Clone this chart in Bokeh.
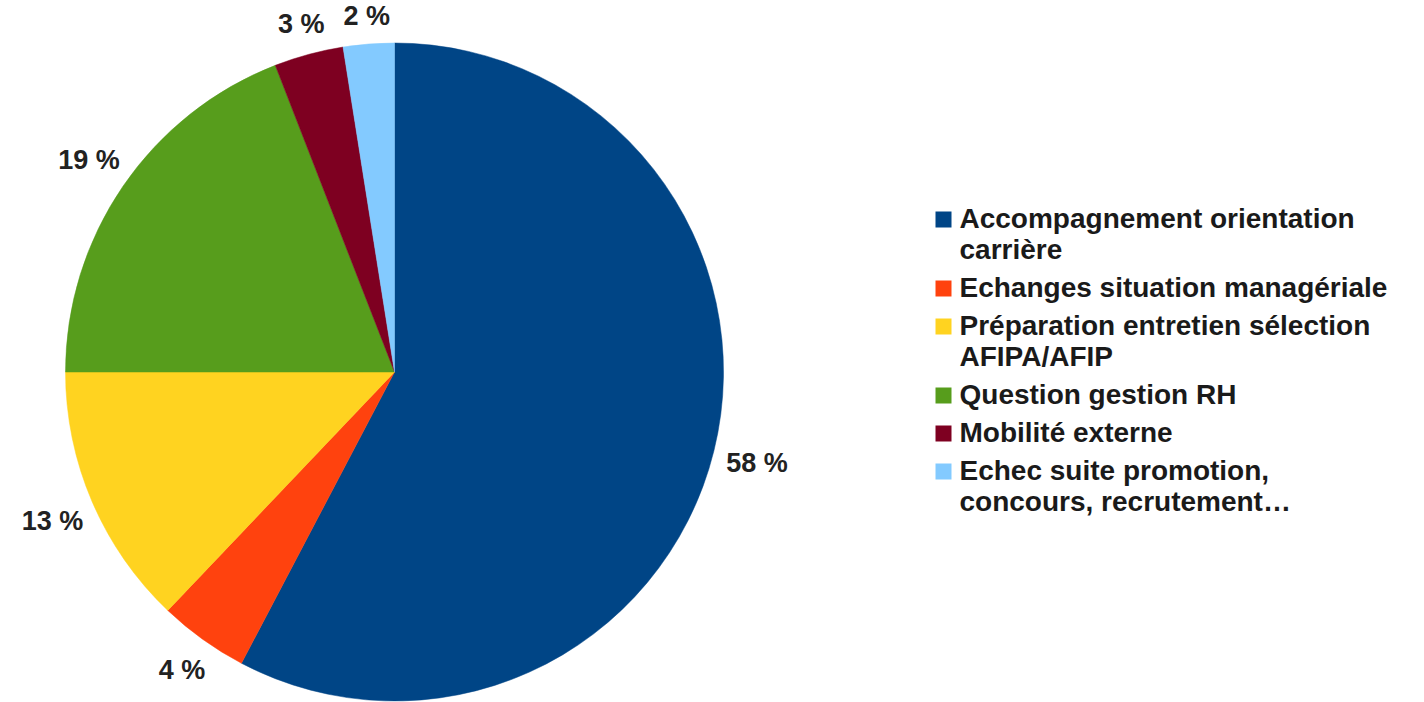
import math
from bokeh.plotting import figure
from bokeh.models import Range1d, ColumnDataSource
from bokeh.core.properties import value
from bokeh.embed import file_html
from bokeh.resources import INLINE

# ---- data ----
categories = [
    "Accompagnement orientation\ncarrière",
    "Echanges situation managériale",
    "Préparation entretien sélection\nAFIPA/AFIP",
    "Question gestion RH",
    "Mobilité externe",
    "Echec suite promotion,\nconcours, recrutement…",
]
values = [57.7, 4.4, 12.9, 19.1, 3.4, 2.5]
pct_labels = ["58 %", "4 %", "13 %", "19 %", "3 %", "2 %"]
colors = ["#004586", "#ff420e", "#ffd320", "#579d1c", "#7e0021", "#83caff"]

# ---- layout (picture px -> data coords, y up) ----
W, H = 1424, 702
def py(y):
    return H - y

p = figure(width=W, height=H, output_backend="svg", toolbar_location=None,
           x_range=Range1d(0, W), y_range=Range1d(0, H), min_border=0)
p.axis.visible = False
p.grid.visible = False
p.outline_line_color = None
p.background_fill_color = "white"
p.border_fill_color = "white"

cx, cy, r = 394, py(371.5), 329
total = sum(values)
starts, ends, mids = [], [], []
acc = 0.0
for v in values:
    f0 = acc / total
    acc += v
    f1 = acc / total
    starts.append(math.pi / 2 - f1 * 2 * math.pi)
    ends.append(math.pi / 2 - f0 * 2 * math.pi)
    mids.append((f0 + f1) / 2 * 2 * math.pi)

src = ColumnDataSource(dict(start=starts, end=ends, color=colors))
p.wedge(x=cx, y=cy, radius=r, start_angle="start", end_angle="end",
        direction="anticlock", fill_color="color", line_color="color",
        line_width=0.5, source=src)

FONT = value("Liberation Sans")
fs = 27
lx, ly = [], []
for lab, th in zip(pct_labels, mids):
    ux, uy = math.sin(th), math.cos(th)
    d = r + 23 + 22 * abs(ux)
    lx.append(cx + d * ux)
    ly.append(cy + d * uy + (3 if uy > 0 else -2))
p.text(x=lx, y=ly, text=pct_labels, text_font=FONT, text_font_style="bold",
       text_font_size=f"{fs}px", text_color="#222222", text_align="center",
       text_baseline="middle")

# ---- legend ----
lfs = 28
line_h = 31
item_gap = 38
sq = 16
sx = 943
tx = 959
base = 228
shift = 10
sq_x, sq_y, t_x, t_y, t_txt = [], [], [], [], []
for cat in categories:
    lines = cat.split("\n")
    sq_x.append(sx)
    sq_y.append(py(base - 9))
    for i, ln in enumerate(lines):
        t_x.append(tx)
        t_y.append(py(base + i * line_h - shift))
        t_txt.append(ln)
    base += (len(lines) - 1) * line_h + item_gap

p.rect(x=sq_x, y=sq_y, width=sq, height=sq, fill_color=colors, line_color=None)
p.text(x=t_x, y=t_y, text=t_txt, text_font=FONT, text_font_style="bold",
       text_font_size=f"{lfs}px", text_color="#1a1a1a", text_align="left",
       text_baseline="alphabetic")

open("out.html", "w").write(file_html(p, INLINE))
